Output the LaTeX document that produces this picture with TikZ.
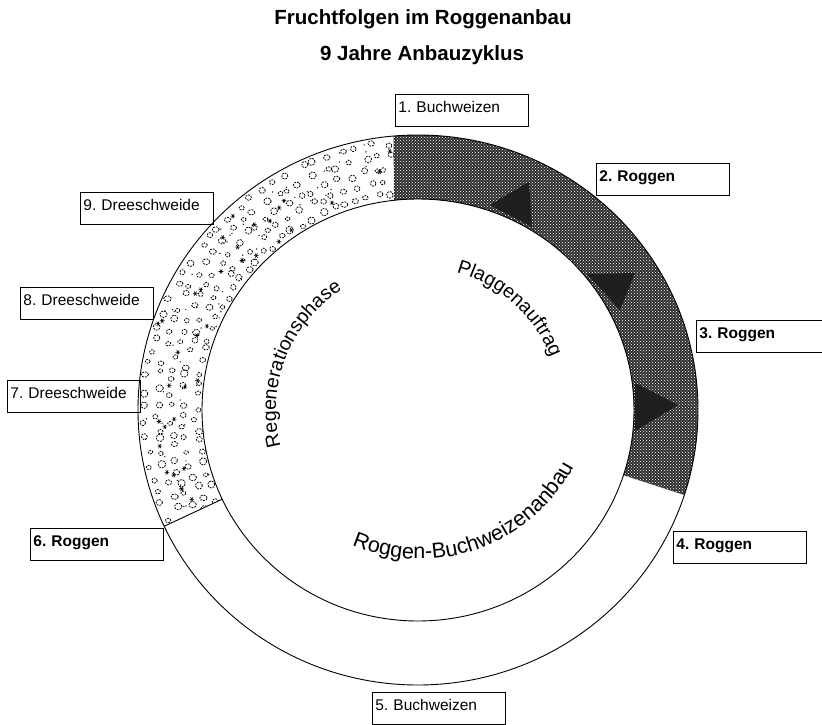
\documentclass[tikz,border=0pt]{standalone}
\usepackage{fontspec}
\setmainfont{Liberation Sans}
\usetikzlibrary{patterns,decorations.text}

\newcommand\ringfont{\fontsize{19.5}{22}\selectfont}
\newcommand\basefont{\fontsize{21.5}{24}\selectfont}

\begin{document}
\frenchspacing
\begin{tikzpicture}[x=1pt,y=1pt,
  yearbox/.style={draw,line width=0.8pt,anchor=north west,minimum width=133pt,minimum height=32pt,
    text width=127pt,inner xsep=3pt,inner ysep=0pt,align=left,text height=11pt,text depth=6pt,
    font=\fontsize{15.5}{18}\selectfont},
  boldbox/.style={yearbox,font=\fontsize{15.5}{18}\selectfont\bfseries},
  ring/.style={line width=0.9pt},
  speck/.style={line width=0.8pt,dash pattern=on 1.8pt off 1.1pt},
  asterisk/.style={line width=0.6pt},
  arrowtri/.style={fill=black!88},
  headline/.style={font=\fontsize{20.5}{24}\selectfont\bfseries,anchor=base}]
\useasboundingbox (0,0) rectangle (822,724);
\coordinate (c) at (418,314);

% titles
\node[headline] (title) at (423,699) {Fruchtfolgen im Roggenanbau};
\node[headline] (subtitle) at (422,663) {9 Jahre Anbauzyklus};

% Plaggenauftrag, dark part of the ring
\path[fill=black!82,postaction={pattern=crosshatch dots,pattern color=white}]
  (c) ++(-18:280 and 275) arc[start angle=-18,end angle=95,x radius=280,y radius=275]
  -- ([shift={(96.4:216 and 211)}]c) arc[start angle=96.4,end angle=-18,x radius=216,y radius=211] -- cycle;

% Dreesch, speckled part of the ring
\begin{scope}
\clip (c) ++(96.4:216 and 211) arc[start angle=96.4,end angle=205,x radius=216,y radius=211]
  -- ([shift={(205:280 and 275)}]c) arc[start angle=205,end angle=95,x radius=280,y radius=275] -- cycle;
\pgfmathsetseed{7}
\foreach \k in {0,...,4}{
  \foreach \j in {0,...,37}{
    \pgfmathsetmacro\ang{94+3.05*\j+1.5*mod(\k,2)+1.1*rand}
    \pgfmathsetmacro\off{6+12.8*\k+2.5*rand}
    \pgfmathsetmacro\rad{2.2+1.6*rnd}
    \draw[speck] ([shift={(\ang:{216+\off} and {211+\off})}]c) circle[x radius=\rad,y radius=\rad*(0.75+0.3*rnd)];
  }
}
\foreach \j in {1,...,34}{
  \pgfmathsetmacro\ang{96+108*rnd}
  \pgfmathsetmacro\off{5+54*rnd}
  \path ([shift={(\ang:{216+\off} and {211+\off})}]c) coordinate (s);
  \draw[asterisk] (s) +(-2.4,0) -- +(2.4,0) (s) +(-1.2,-2.1) -- +(1.2,2.1) (s) +(-1.2,2.1) -- +(1.2,-2.1);
}
\foreach \j in {1,...,60}{
  \pgfmathsetmacro\ang{96+108*rnd}
  \pgfmathsetmacro\off{3+58*rnd}
  \fill ([shift={(\ang:{216+\off} and {211+\off})}]c) circle[radius=0.7];
}
\end{scope}

% outlines
\draw[ring] (c) ellipse[x radius=280,y radius=275];
\draw[ring] (c) ellipse[x radius=216,y radius=211];
\coordinate (cuti) at ([shift={(205:216 and 211)}]c);
\coordinate (cuto) at ([shift={(205:280 and 275)}]c);
\draw[ring] (cuti) -- (cuto);

% arrow heads
\fill[arrowtri] (490,519) -- (529,542) -- (532,497) -- cycle;
\fill[arrowtri] (587,450) -- (635,451) -- (620,414) -- cycle;
\fill[arrowtri] (635,341) -- (678,319) -- (635,293) -- cycle;

% phases
\path[decorate,decoration={text along path,text align=center,text={|\ringfont|Plaggenauftrag}}]
  (c) ++(90:143) arc[start angle=90,end angle=6,radius=143];
\path[decorate,decoration={text along path,text align=center,text={|\ringfont|Regenerationsphase}}]
  (c) ++(205:142) arc[start angle=205,end angle=112,radius=142];
\path[decorate,decoration={text along path,text align=center,text={|\basefont|Roggen-Buchweizenanbau}}]
  (420,339) ++(235:174) arc[start angle=235,end angle=344,radius=174];

% years
\node[yearbox] (y1) at (395,630) {1. Buchweizen};
\node[boldbox] (y2) at (596,561) {2. Roggen};
\node[boldbox] (y3) at (696,404) {3. Roggen};
\node[boldbox] (y4) at (673,193) {4. Roggen};
\node[yearbox] (y5) at (372,32) {5. Buchweizen};
\node[boldbox] (y6) at (30,196) {6. Roggen};
\node[yearbox] (y7) at (7,344) {7. Dreeschweide};
\node[yearbox] (y8) at (20,437) {8. Dreeschweide};
\node[yearbox] (y9) at (80,532) {9. Dreeschweide};
\end{tikzpicture}
\end{document}
